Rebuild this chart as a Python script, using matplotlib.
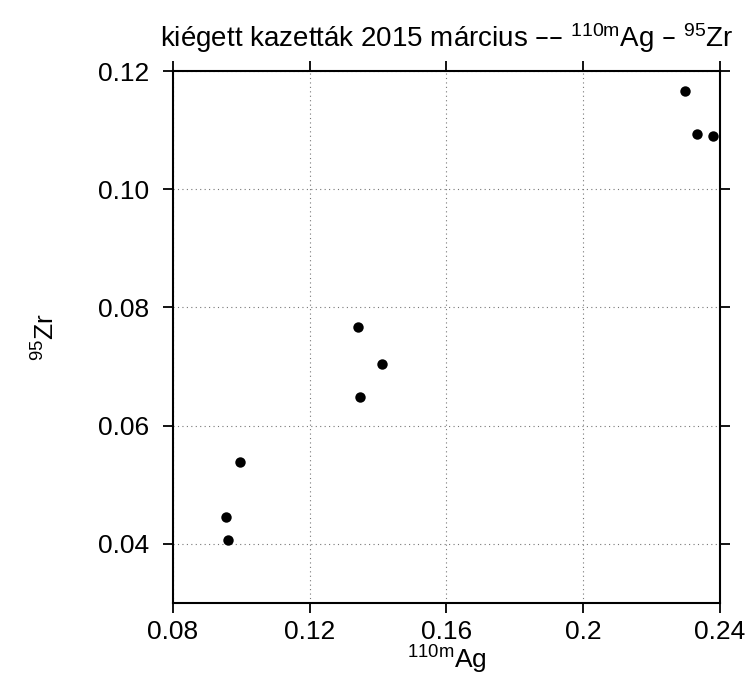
import numpy as np
import matplotlib.pyplot as plt

plt.rcParams['font.family'] = ['Liberation Sans', 'DejaVu Sans']
plt.rcParams['mathtext.default'] = 'regular'

# 110mAg vs 95Zr
ag110m = [0.2298, 0.2333, 0.2379, 0.1340, 0.1411, 0.1347, 0.0996, 0.0954, 0.0962]
zr95 = [0.1166, 0.1093, 0.1090, 0.0767, 0.0704, 0.0648, 0.0539, 0.0446, 0.0406]

xticks = [0.08, 0.12, 0.16, 0.2, 0.24]
xticklabels = ['0.08', '0.12', '0.16', '0.2', '0.24']
yticks = [0.04, 0.06, 0.08, 0.10, 0.12]
yticklabels = ['0.04', '0.06', '0.08', '0.10', '0.12']

fig = plt.figure(figsize=(7.56, 6.95), dpi=100)
ax = fig.add_axes([0.2288, 0.1324, 0.7236, 0.7654])

ax.plot(ag110m, zr95, 'o', color='black', markersize=7.5, markeredgewidth=0)

ax.set_xlim(0.08, 0.24)
ax.set_ylim(0.03, 0.12)
ax.set_xticks(xticks)
ax.set_xticklabels(xticklabels)
ax.set_yticks(yticks)
ax.set_yticklabels(yticklabels)

ax.grid(True, linestyle=(0, (1, 3)), color='#777777', linewidth=0.8)
ax.tick_params(direction='out', length=7, width=1.3, labelsize=19,
               top=True, right=True, colors='black')
ax.tick_params(axis='x', pad=5)
ax.tick_params(axis='y', pad=10)
for s in ax.spines.values():
    s.set_linewidth(1.5)

ax.set_title('kiégett kazetták 2015 március –– $^{110m}$Ag – $^{95}$Zr',
             fontsize=20, pad=17)
ax.set_xlabel('$^{110m}$Ag', fontsize=19, labelpad=0)
ax.set_ylabel('$^{95}$Zr', fontsize=19, labelpad=28)

fig.savefig('out.png', dpi=100)
